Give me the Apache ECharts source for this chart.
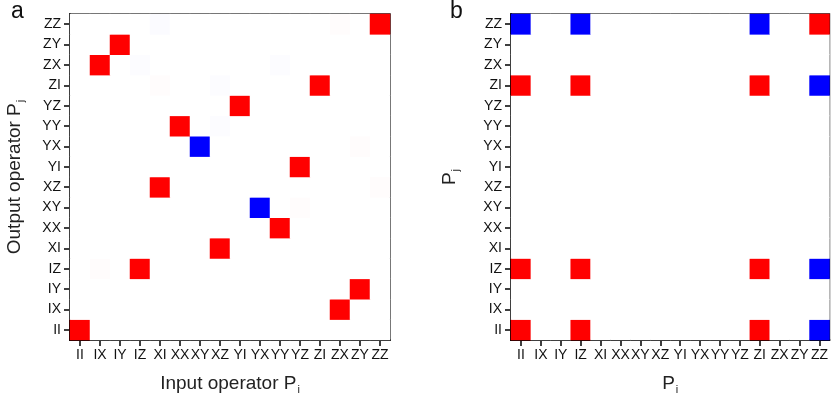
<!DOCTYPE html>
<html>
<head>
<meta charset="utf-8">
<script src="https://cdn.jsdelivr.net/npm/echarts@6/dist/echarts.min.js"></script>
<style>html,body{margin:0;padding:0;background:#fff}#c{width:831px;height:400px}</style>
</head>
<body>
<div id="c"></div>
<script>
// Pauli operator labels (x: input, y: output), bottom-to-top for y
const paulis = ['II','IX','IY','IZ','XI','XX','XY','XZ','YI','YX','YY','YZ','ZI','ZX','ZY','ZZ'];

// Panel a: strong entries (output row, input column, value)
const aOut   = ['ZZ','ZY','ZX','ZI','YZ','YY','YX','YI','XZ','XY','XX','XI','IZ','IY','IX','II'];
const aIn    = ['ZZ','IY','IX','ZI','YI','XX','XY','YZ','XI','YX','YY','XZ','IZ','ZY','ZX','II'];
const aVal   = [1, 1, 1, 1, 1, 1, -1, 1, 1, -1, 1, 1, 1, 1, 1, 1];
// Panel a: faint residual entries
const aFaintOut = ['ZZ','ZZ','ZX','ZX','ZI','ZI','YY','YX','XZ','XY','IZ'];
const aFaintIn  = ['XI','ZX','IZ','YY','XI','XZ','XZ','ZY','ZZ','YZ','IX'];
const aFaintVal = [-0.015, 0.01, -0.01, -0.01, 0.01, -0.012, -0.012, 0.01, 0.01, 0.01, 0.01];

// Panel b: nonzero block (rows/cols) and values
const bOps = ['II','IZ','ZI','ZZ'];
const bVal = [
  [1, 1, 1, -1],   // row II
  [1, 1, 1, -1],   // row IZ
  [1, 1, 1, -1],   // row ZI
  [-1, -1, -1, 1]  // row ZZ
];

function buildA() {
  const m = {};
  for (let i = 0; i < aOut.length; i++) m[aOut[i] + '|' + aIn[i]] = aVal[i];
  for (let i = 0; i < aFaintOut.length; i++) m[aFaintOut[i] + '|' + aFaintIn[i]] = aFaintVal[i];
  const d = [];
  for (let y = 0; y < paulis.length; y++)
    for (let x = 0; x < paulis.length; x++)
      d.push([x, y, m[paulis[y] + '|' + paulis[x]] || 0]);
  return d;
}
function buildB() {
  const d = [];
  for (let y = 0; y < paulis.length; y++)
    for (let x = 0; x < paulis.length; x++) {
      const r = bOps.indexOf(paulis[y]), c = bOps.indexOf(paulis[x]);
      d.push([x, y, (r >= 0 && c >= 0) ? bVal[r][c] : 0]);
    }
  return d;
}

const FONT = 'Liberation Sans, Arial, sans-serif';
const nameRich = {
  a: {fontSize: 19, fontFamily: FONT, color: '#222'},
  s: {fontSize: 11, fontFamily: FONT, color: '#222', padding: [12, 0, 0, 1]}
};
function xAxis(gi, name) {
  return {
    type: 'category', gridIndex: gi, data: paulis,
    axisLine: {show: true, lineStyle: {color: '#000', width: 2}},
    axisTick: {show: true, alignWithLabel: true, length: 6, lineStyle: {color: '#000', width: 1.5}},
    axisLabel: {interval: 0, fontSize: 14, fontFamily: FONT, color: '#111', margin: 8},
    splitLine: {show: false},
    name: name, nameLocation: 'middle', nameGap: 32,
    nameTextStyle: {rich: nameRich}
  };
}
function yAxis(gi, name, gap) {
  return {
    type: 'category', gridIndex: gi, data: paulis,
    axisLine: {show: true, lineStyle: {color: '#000', width: 2}},
    axisTick: {show: true, alignWithLabel: true, length: 6, lineStyle: {color: '#000', width: 1.5}},
    axisLabel: {interval: 0, fontSize: 14, fontFamily: FONT, color: '#111', margin: 9},
    splitLine: {show: false},
    name: name, nameLocation: 'middle', nameGap: gap, nameRotate: 90,
    nameTextStyle: {rich: nameRich}
  };
}

const chart = echarts.init(document.getElementById('c'), null, {renderer: 'canvas'});
chart.setOption({
  animation: false,
  backgroundColor: '#fff',
  title: [
    {text: 'a', left: 6, top: -5, textStyle: {fontSize: 23, fontWeight: 'normal', fontFamily: FONT, color: '#111'}},
    {text: 'b', left: 445, top: -5, textStyle: {fontSize: 23, fontWeight: 'normal', fontFamily: FONT, color: '#111'}}
  ],
  grid: [
    {left: 70, top: 14, width: 320, height: 326, show: true, borderColor: '#111', borderWidth: 1.5, backgroundColor: 'transparent'},
    {left: 511, top: 14, width: 320, height: 326, show: true, borderColor: '#111', borderWidth: 1.5, backgroundColor: 'transparent'}
  ],
  xAxis: [xAxis(0, '{a|Input operator P}{s|i}'), xAxis(1, '{a|P}{s|i}')],
  yAxis: [yAxis(0, '{a|Output operator P}{s|j}', 44), yAxis(1, '{a|P}{s|j}', 50)],
  visualMap: {
    show: false, type: 'continuous', min: -1, max: 1, seriesIndex: [0, 1],
    inRange: {color: ['#0000ff', '#ffffff', '#ff0000']}
  },
  series: [
    {type: 'heatmap', xAxisIndex: 0, yAxisIndex: 0, data: buildA(), progressive: 0, emphasis: {disabled: true}},
    {type: 'heatmap', xAxisIndex: 1, yAxisIndex: 1, data: buildB(), progressive: 0, emphasis: {disabled: true}}
  ]
});
</script>
</body>
</html>
